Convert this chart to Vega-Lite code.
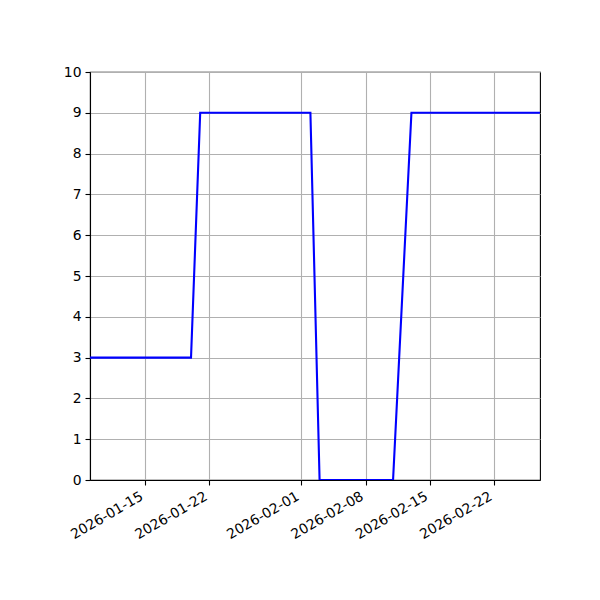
{
  "$schema": "https://vega.github.io/schema/vega-lite/v6.json",
  "width": 450,
  "height": 408,
  "autosize": {"type": "none"},
  "padding": {"left": 90, "top": 72, "right": 60, "bottom": 120},
  "background": "white",
  "config": {
    "font": "DejaVu Sans",
    "view": {"stroke": "black", "strokeWidth": 1.1},
    "axis": {
      "labelFont": "DejaVu Sans",
      "labelFontSize": 13.9,
      "labelColor": "black",
      "domainColor": "black",
      "domainWidth": 1.1,
      "tickColor": "black",
      "tickWidth": 1.1,
      "tickSize": 5,
      "labelPadding": 4,
      "gridColor": "#b0b0b0",
      "gridWidth": 1.1,
      "gridOpacity": 1
    }
  },
  "data": {
    "values": [
      {"date": "2026-01-09", "value": 3},
      {"date": "2026-01-10", "value": 3},
      {"date": "2026-01-11", "value": 3},
      {"date": "2026-01-12", "value": 3},
      {"date": "2026-01-13", "value": 3},
      {"date": "2026-01-14", "value": 3},
      {"date": "2026-01-15", "value": 3},
      {"date": "2026-01-16", "value": 3},
      {"date": "2026-01-17", "value": 3},
      {"date": "2026-01-18", "value": 3},
      {"date": "2026-01-19", "value": 3},
      {"date": "2026-01-20", "value": 3},
      {"date": "2026-01-21", "value": 9},
      {"date": "2026-01-22", "value": 9},
      {"date": "2026-01-23", "value": 9},
      {"date": "2026-01-24", "value": 9},
      {"date": "2026-01-25", "value": 9},
      {"date": "2026-01-26", "value": 9},
      {"date": "2026-01-27", "value": 9},
      {"date": "2026-01-28", "value": 9},
      {"date": "2026-01-29", "value": 9},
      {"date": "2026-01-30", "value": 9},
      {"date": "2026-01-31", "value": 9},
      {"date": "2026-02-01", "value": 9},
      {"date": "2026-02-02", "value": 9},
      {"date": "2026-02-03", "value": 0},
      {"date": "2026-02-04", "value": 0},
      {"date": "2026-02-05", "value": 0},
      {"date": "2026-02-06", "value": 0},
      {"date": "2026-02-07", "value": 0},
      {"date": "2026-02-08", "value": 0},
      {"date": "2026-02-09", "value": 0},
      {"date": "2026-02-10", "value": 0},
      {"date": "2026-02-11", "value": 0},
      {"date": "2026-02-13", "value": 9},
      {"date": "2026-02-14", "value": 9},
      {"date": "2026-02-15", "value": 9},
      {"date": "2026-02-16", "value": 9},
      {"date": "2026-02-17", "value": 9},
      {"date": "2026-02-18", "value": 9},
      {"date": "2026-02-19", "value": 9},
      {"date": "2026-02-20", "value": 9},
      {"date": "2026-02-21", "value": 9},
      {"date": "2026-02-22", "value": 9},
      {"date": "2026-02-23", "value": 9},
      {"date": "2026-02-24", "value": 9},
      {"date": "2026-02-25", "value": 9},
      {"date": "2026-02-26", "value": 9},
      {"date": "2026-02-27", "value": 9}
    ]
  },
  "mark": {"type": "line", "color": "#0000ff", "strokeWidth": 2.1, "clip": true},
  "encoding": {
    "x": {
      "field": "date",
      "type": "temporal",
      "title": null,
      "scale": {
        "type": "utc",
        "domain": [
          {"year": 2026, "month": 1, "date": 9, "utc": true},
          {"year": 2026, "month": 2, "date": 27, "utc": true}
        ]
      },
      "axis": {
        "values": [
          {"year": 2026, "month": 1, "date": 15, "utc": true},
          {"year": 2026, "month": 1, "date": 22, "utc": true},
          {"year": 2026, "month": 2, "date": 1, "utc": true},
          {"year": 2026, "month": 2, "date": 8, "utc": true},
          {"year": 2026, "month": 2, "date": 15, "utc": true},
          {"year": 2026, "month": 2, "date": 22, "utc": true}
        ],
        "labelExpr": "utcFormat(datum.value, '%Y-%m-%d')",
        "labelAngle": -30,
        "labelAlign": "right",
        "labelBaseline": "top",
        "labelOffset": -7,
        "labelFlush": false,
        "labelOverlap": false
      }
    },
    "y": {
      "field": "value",
      "type": "quantitative",
      "title": null,
      "scale": {"domain": [0, 10], "nice": false, "zero": true},
      "axis": {
        "values": [0, 1, 2, 3, 4, 5, 6, 7, 8, 9, 10],
        "format": "d",
        "labelFlush": false
      }
    }
  }
}
